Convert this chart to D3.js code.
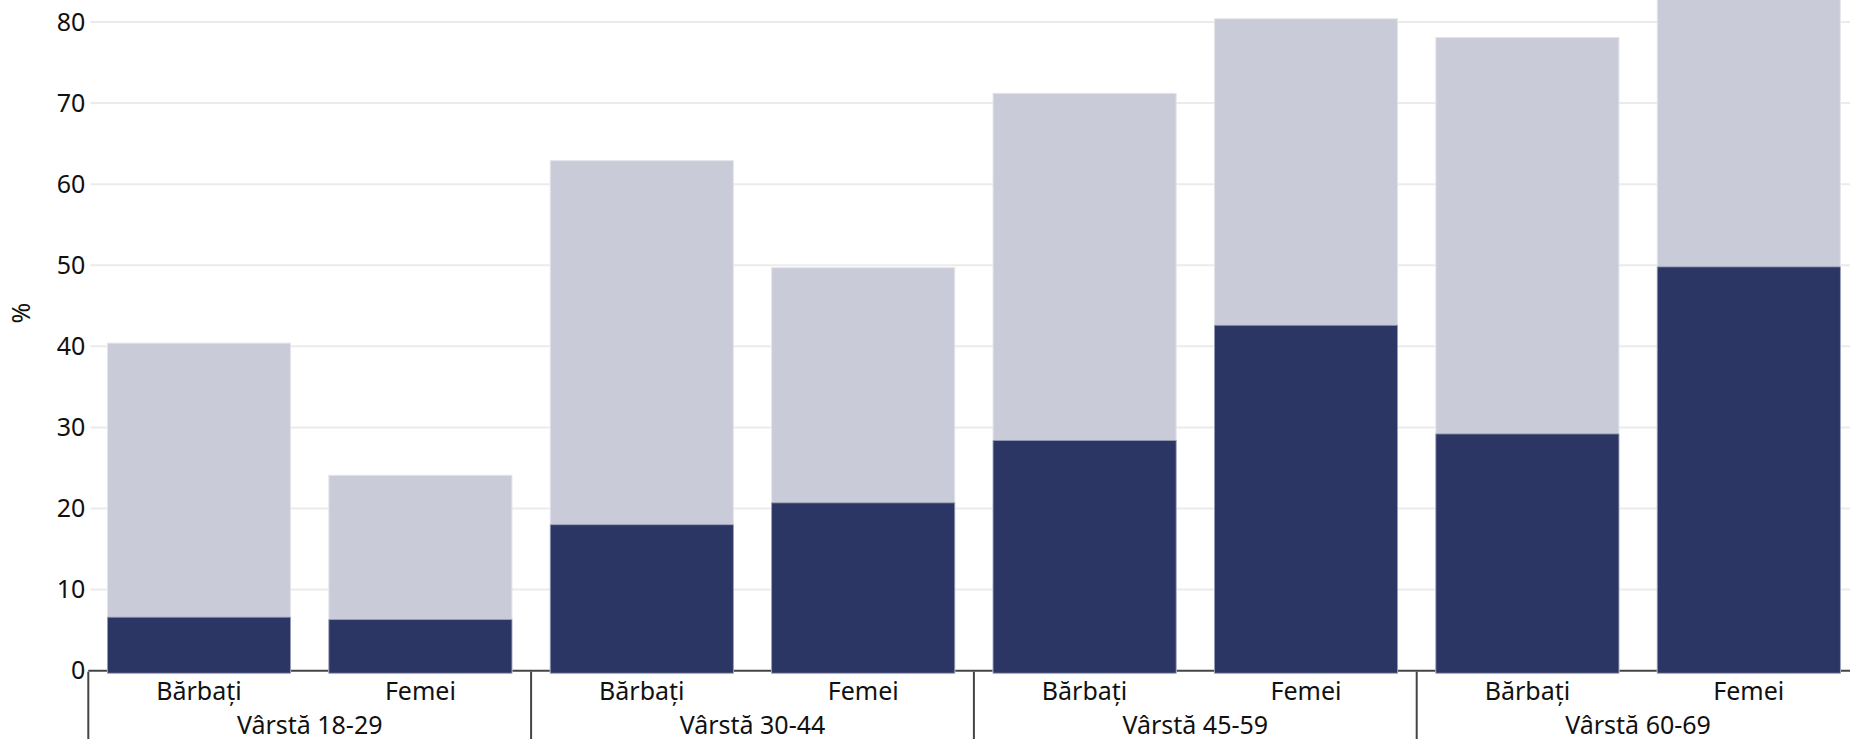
<!DOCTYPE html>
<html>
<head>
    <title>Vârstă / sex</title>
    <script src="https://d3js.org/d3.v7.min.js"></script>
    <style>
        html, body { margin: 0; padding: 0; background: #fff; }
        text { font-family: "Noto Sans", Lato, sans-serif; fill: #111; }
    </style>
</head>
<body>
    <svg id="chart"></svg>

    <script>
        // Data values
        const groups = ['Vârstă 18-29', 'Vârstă 30-44', 'Vârstă 45-59', 'Vârstă 60-69'];
        const sexes = ['Bărbați', 'Femei'];
        // light bar (total) and dark bar (part), order: group by group, Bărbați then Femei
        const totalValues = [40.4, 24.1, 62.9, 49.7, 71.2, 80.4, 78.1, 85.0];
        const partValues = [6.6, 6.3, 18.0, 20.7, 28.4, 42.6, 29.2, 49.8];
        const yTicks = [0, 10, 20, 30, 40, 50, 60, 70, 80];

        const rows = [];
        groups.forEach((g, gi) => {
            sexes.forEach((s, si) => {
                const i = gi * sexes.length + si;
                rows.push({ group: g, sex: s, total: totalValues[i], part: partValues[i] });
            });
        });

        // Chart dimensions
        const width = 1850;
        const height = 739;
        const left = 88.3;
        const baseY = 670.7;

        const chart = d3.select('#chart')
            .attr('width', width)
            .attr('height', height);

        // Scales
        const yScale = d3.scaleLinear()
            .domain([0, 80])
            .range([baseY, 22]);

        const groupScale = d3.scaleBand()
            .domain(groups)
            .range([left, 1859.5])
            .padding(0);

        const sexScale = d3.scaleBand()
            .domain(sexes)
            .range([0, groupScale.bandwidth()])
            .paddingInner(0.173)
            .paddingOuter(0.0865);

        const xPos = d => groupScale(d.group) + sexScale(d.sex);

        // Gridlines
        chart.selectAll('.grid')
            .data(yTicks.filter(t => t > 0))
            .enter()
            .append('line')
            .attr('class', 'grid')
            .attr('x1', left + 2)
            .attr('x2', width)
            .attr('y1', d => yScale(d))
            .attr('y2', d => yScale(d))
            .attr('stroke', '#ebebeb')
            .attr('stroke-width', 2);

        // Y tick labels
        chart.selectAll('.ytick')
            .data(yTicks)
            .enter()
            .append('text')
            .attr('class', 'ytick')
            .attr('x', left - 3)
            .attr('y', d => yScale(d))
            .attr('dy', '0.35em')
            .attr('text-anchor', 'end')
            .style('font-size', '25px')
            .text(d => d);

        // Y axis title
        chart.append('text')
            .attr('transform', 'translate(21,313) rotate(-90)')
            .attr('text-anchor', 'middle')
            .attr('dy', '0.35em')
            .style('font-size', '25px')
            .text('%');

        // Baseline
        chart.append('line')
            .attr('x1', left)
            .attr('x2', width)
            .attr('y1', baseY)
            .attr('y2', baseY)
            .attr('stroke', '#444')
            .attr('stroke-width', 2);

        // Light bars (total)
        chart.selectAll('.bar-total')
            .data(rows)
            .enter()
            .append('rect')
            .attr('class', 'bar-total')
            .attr('x', xPos)
            .attr('y', d => yScale(d.total))
            .attr('width', sexScale.bandwidth())
            .attr('height', d => baseY + 2.5 - yScale(d.total))
            .attr('fill', '#c9cbd8')
            .attr('stroke', '#e4e5ec')
            .attr('stroke-width', 1);

        // Dark bars (part)
        chart.selectAll('.bar-part')
            .data(rows)
            .enter()
            .append('rect')
            .attr('class', 'bar-part')
            .attr('x', xPos)
            .attr('y', d => yScale(d.part))
            .attr('width', sexScale.bandwidth())
            .attr('height', d => baseY + 2.5 - yScale(d.part))
            .attr('fill', '#2b3664')
            .attr('stroke', '#9aa0b8')
            .attr('stroke-width', 0.8);

        // Sex labels
        chart.selectAll('.sex-label')
            .data(rows)
            .enter()
            .append('text')
            .attr('class', 'sex-label')
            .attr('x', d => xPos(d) + sexScale.bandwidth() / 2)
            .attr('y', 700)
            .attr('text-anchor', 'middle')
            .style('font-size', '25px')
            .text(d => d.sex);

        // Group separators
        chart.selectAll('.sep')
            .data(groups)
            .enter()
            .append('line')
            .attr('class', 'sep')
            .attr('x1', d => groupScale(d))
            .attr('x2', d => groupScale(d))
            .attr('y1', baseY + 1)
            .attr('y2', height)
            .attr('stroke', '#444')
            .attr('stroke-width', 2);

        // Group labels
        chart.selectAll('.group-label')
            .data(groups)
            .enter()
            .append('text')
            .attr('class', 'group-label')
            .attr('x', d => groupScale(d) + groupScale.bandwidth() / 2)
            .attr('y', 734)
            .attr('text-anchor', 'middle')
            .style('font-size', '25px')
            .text(d => d);
    </script>
</body>
</html>
